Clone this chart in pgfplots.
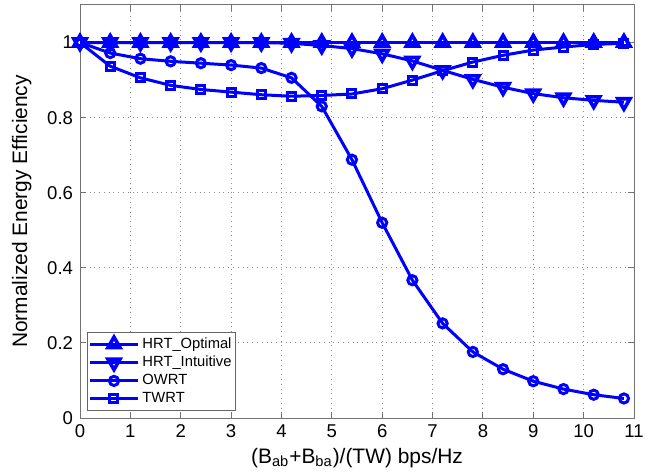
\documentclass[border=0pt]{standalone}
\usepackage{fontspec}
\setmainfont{Liberation Sans}
\usepackage{pgfplots}
\pgfplotsset{compat=1.18}
\usetikzlibrary{calc}
\definecolor{mblue}{RGB}{0,0,255}
\begin{document}
\begin{tikzpicture}
\begin{axis}[
  scale only axis, width=277bp, height=206.5bp,
  xmin=0, xmax=11, ymin=0, ymax=1.1,
  xtick={0,1,2,3,4,5,6,7,8,9,10,11},
  ytick={0,0.2,0.4,0.6,0.8,1},
  yticklabels={0,0.2,0.4,0.6,0.8,1},
  tick pos=both, tick align=inside,
  major tick length=2.8bp,
  /pgf/number format/assume math mode=true,
  tick label style={font=\fontsize{9.3}{11}\selectfont},
  label style={font=\fontsize{10.5}{12}\selectfont},
  axis line style={black!55, line width=0.5bp},
  every tick/.style={black!55, line width=0.5bp},
  grid=major,
  major grid style={dotted, black!45, line width=0.5bp},
  xlabel={(B\textsubscript{ab}+B\textsubscript{ba})/(TW) bps/Hz},
  ylabel={Normalized Energy Efficiency},
  xlabel style={at={(axis description cs:0.5,-0.097)}, anchor=center},
  ylabel style={at={(axis description cs:-0.105,0.5)}, anchor=center},
  legend cell align=left,
  legend style={at={(axis description cs:0.0126,0.017)}, anchor=south west,
    draw=black!60, line width=0.5bp, font=\fontsize{7.4}{8.5}\selectfont,
    row sep=-0.6bp, inner xsep=0.5bp, inner ysep=1bp,
    nodes={inner sep=1.5bp}},
  legend image code/.code={\draw[mark repeat=2,mark phase=2] plot coordinates {(0bp,0bp) (12bp,0bp) (24bp,0bp)};},
  every axis plot/.append style={mblue, line width=1.5bp},
]
\addplot[mblue, mark=triangle, mark size=3.5bp, mark options={solid, line width=1.8bp}] coordinates {
(0,1) (0.6,1) (1.2,1) (1.8,1) (2.4,1) (3.0,1) (3.6,1) (4.2,1) (4.8,1) (5.4,1)
(6.0,1) (6.6,1) (7.2,1) (7.8,1) (8.4,1) (9.0,1) (9.6,1) (10.2,1) (10.8,1)};
\addlegendentry{HRT\_Optimal}
\addplot[mblue, mark=triangle, mark size=3.5bp, mark options={solid, rotate=180, line width=1.8bp}] coordinates {
(0,1) (0.6,1) (1.2,1) (1.8,1) (2.4,1) (3.0,1) (3.6,1) (4.2,0.998) (4.8,0.992) (5.4,0.984)
(6.0,0.970) (6.6,0.951) (7.2,0.926) (7.8,0.902) (8.4,0.881) (9.0,0.864) (9.6,0.853) (10.2,0.846) (10.8,0.841)};
\addlegendentry{HRT\_Intuitive}
\addplot[mblue, mark=o, mark size=2.3bp, mark options={solid}] coordinates {
(0,1) (0.6,0.972) (1.2,0.957) (1.8,0.950) (2.4,0.945) (3.0,0.940) (3.6,0.932) (4.2,0.906) (4.8,0.830) (5.4,0.688)
(6.0,0.520) (6.6,0.367) (7.2,0.252) (7.8,0.176) (8.4,0.130) (9.0,0.098) (9.6,0.077) (10.2,0.062) (10.8,0.052)};
\addlegendentry{OWRT}
\addplot[mblue, mark=square, mark size=2bp, mark options={solid}] coordinates {
(0,1) (0.6,0.937) (1.2,0.906) (1.8,0.886) (2.4,0.875) (3.0,0.868) (3.6,0.861) (4.2,0.857) (4.8,0.859) (5.4,0.863)
(6.0,0.877) (6.6,0.900) (7.2,0.925) (7.8,0.948) (8.4,0.966) (9.0,0.980) (9.6,0.988) (10.2,0.995) (10.8,0.998)};
\addlegendentry{TWRT}
\end{axis}
\path ($(current axis.south west)+(-40bp,-29bp)$) rectangle ($(current axis.north east)+(14bp,2.5bp)$);
\end{tikzpicture}
\end{document}
